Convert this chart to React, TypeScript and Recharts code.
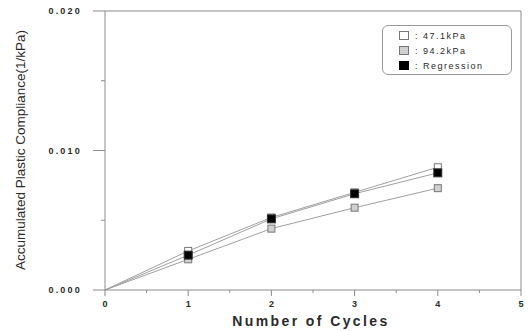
import { LineChart, Line, XAxis, YAxis, ReferenceLine, Legend } from 'recharts';

const cycles = [0, 1, 2, 3, 4];
const kpa47 = [0, 0.0028, 0.0052, 0.007, 0.0088];
const kpa94 = [0, 0.0022, 0.0044, 0.0059, 0.0073];
const regression = [0, 0.0025, 0.0051, 0.0069, 0.0084];

const xTicks = [0, 0.5, 1, 1.5, 2, 2.5, 3, 3.5, 4, 4.5, 5];
const yTicks = [0, 0.005, 0.01, 0.015, 0.02];

const data = cycles.map((c, i) => ({
  cycle: c,
  kpa47: kpa47[i],
  kpa94: kpa94[i],
  regression: regression[i],
}));

const AXIS = '#8c8c8c';
const LINE = '#a0a0a0';
const TEXT = '#2a2a2a';
const FONT = '"Liberation Sans", Arial, sans-serif';

function YTick({ x, y, payload }: any) {
  const major = Math.round(payload.value * 1000) % 10 === 0;
  return (
    <g>
      <line x1={x} x2={x - (major ? 12 : 4)} y1={y} y2={y} stroke={AXIS} />
      {major && (
        <text x={x - 23} y={y} dy={3} textAnchor="end" fontSize={9} fontWeight="bold" letterSpacing={2.2} fill={TEXT} fontFamily={FONT}>
          {payload.value.toFixed(3)}
        </text>
      )}
    </g>
  );
}

function XTick({ x, y, payload }: any) {
  const major = Number.isInteger(payload.value);
  return (
    <g>
      <line x1={x} x2={x} y1={y} y2={y + (major ? 6 : 3)} stroke={AXIS} />
      {major && (
        <text x={x} y={y + 17} textAnchor="middle" fontSize={9} fontWeight="bold" fill={TEXT} fontFamily={FONT}>
          {payload.value}
        </text>
      )}
    </g>
  );
}

function makeDot(fill: string, stroke: string, size: number) {
  return (props: any) => {
    const { cx, cy, index } = props;
    if (index === 0) return <g key={index} />;
    return (
      <rect key={index} x={cx - size / 2} y={cy - size / 2} width={size} height={size} fill={fill} stroke={stroke} strokeWidth={1} />
    );
  };
}

function Swatch({ fill, stroke }: { fill: string; stroke: string }) {
  return (
    <svg width={10} height={9} style={{ marginRight: 6 }}>
      <rect x={0.5} y={0.5} width={9} height={8} fill={fill} stroke={stroke} />
    </svg>
  );
}

function LegendBox() {
  const rows = [
    { label: ': 47.1kPa', fill: '#fff', stroke: '#777' },
    { label: ': 94.2kPa', fill: '#d0d0d0', stroke: '#777' },
    { label: ': Regression', fill: '#000', stroke: '#000' },
  ];
  return (
    <div
      style={{
        border: '1px solid #9a9a9a',
        borderRadius: 6,
        width: 130,
        height: 50,
        boxSizing: 'border-box',
        padding: '2px 0 0 16px',
        fontFamily: FONT,
        fontSize: 9,
        letterSpacing: 1.5,
        color: TEXT,
      }}
    >
      {rows.map((r) => (
        <div key={r.label} style={{ display: 'flex', alignItems: 'center', height: 15 }}>
          <Swatch fill={r.fill} stroke={r.stroke} />
          <span>{r.label}</span>
        </div>
      ))}
    </div>
  );
}

function YTitle() {
  return (
    <text x={25} y={150} transform="rotate(-90 25 150)" textAnchor="middle" fontSize={13.5} fill={TEXT} fontFamily={FONT}>
      Accumulated Plastic Compliance(1/kPa)
    </text>
  );
}

function XTitle() {
  return (
    <text x={311} y={326} textAnchor="middle" fontSize={14} fontWeight="bold" letterSpacing={2.4} fill={TEXT} fontFamily={FONT}>
      Number of Cycles
    </text>
  );
}

export default function App() {
  return (
    <div style={{ position: 'absolute', left: 0, top: 0, width: 531, height: 331, background: '#fff' }}>
      <LineChart width={531} height={331} data={data} margin={{ top: 11, right: 10, bottom: 11, left: 0 }}>
        <XAxis
          dataKey="cycle"
          type="number"
          domain={[0, 5]}
          ticks={xTicks}
          interval={0}
          height={30}
          stroke={AXIS}
          tickSize={0}
          tickMargin={0}
          tickLine={false}
          tick={<XTick />}
          label={<XTitle />}
        />
        <YAxis
          type="number"
          domain={[0, 0.02]}
          ticks={yTicks}
          interval={0}
          width={105}
          stroke={AXIS}
          tickSize={0}
          tickMargin={0}
          tickLine={false}
          tick={<YTick />}
          label={<YTitle />}
        />
        <ReferenceLine y={0.02} stroke={AXIS} />
        <ReferenceLine x={5} stroke={AXIS} />
        <Legend
          verticalAlign="middle"
          layout="horizontal"
          content={<LegendBox />}
          wrapperStyle={{ position: 'absolute', left: 382, top: 25, width: 130, height: 50 }}
        />
        <Line
          dataKey="kpa94"
          stroke={LINE}
          strokeWidth={1}
          dot={makeDot('#d0d0d0', '#777', 7)}
          isAnimationActive={false}
        />
        <Line
          dataKey="kpa47"
          stroke={LINE}
          strokeWidth={1}
          dot={makeDot('#fff', '#777', 7)}
          isAnimationActive={false}
        />
        <Line
          dataKey="regression"
          stroke={LINE}
          strokeWidth={1}
          dot={makeDot('#000', '#333', 8)}
          isAnimationActive={false}
        />
      </LineChart>
    </div>
  );
}
